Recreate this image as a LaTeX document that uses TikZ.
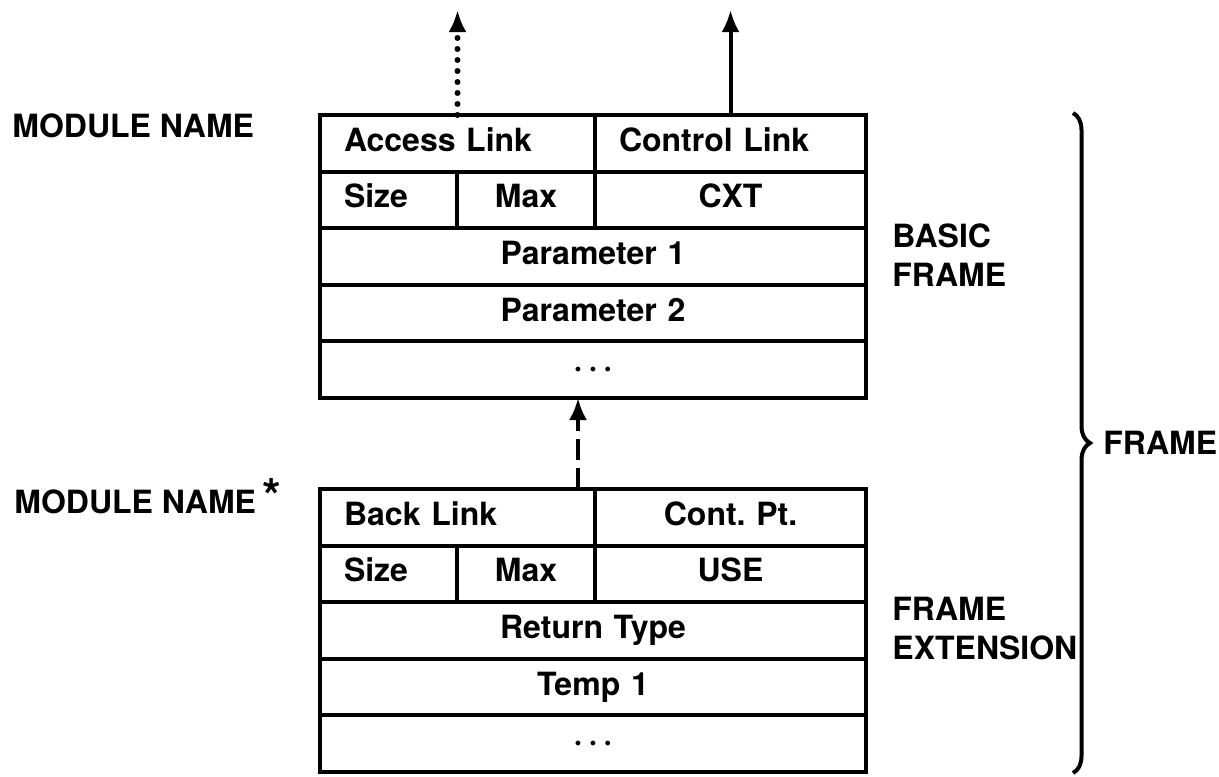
\documentclass[tikz,border=0pt]{standalone}
\usepackage{fontspec}
\setmainfont{TeX Gyre Heros}
\usetikzlibrary{arrows.meta,decorations.pathreplacing}

\newcommand\celldots{\textperiodcentered\hspace{3pt}\textperiodcentered\hspace{3pt}\textperiodcentered}

\begin{document}
\begin{tikzpicture}[
  x=0.5pt, y=-0.5pt,
  every node/.style={font=\bfseries\fontsize{16}{19.5}\selectfont},
  cell/.style={draw, line width=2pt, outer sep=0pt, inner xsep=12pt, inner ysep=0pt,
    minimum height=28.3pt, text height=11.5pt, text depth=3.5pt,
    anchor=north west, text width=#1, align=center},
  lcell/.style={cell=#1, align=left},
  lbl/.style={inner sep=0pt, align=left},
  arr/.style={-{Latex[length=11pt,width=9pt]}, line width=2pt},
  dotarr/.style={arr, line width=3pt, line cap=round, dash pattern=on 0pt off 5.5pt},
  dasharr/.style={arr, dash pattern=on 10.5pt off 4pt}
]
\useasboundingbox (0,0) rectangle (1219,776);

\node[lcell=113.5pt] (acc) at (320,115) {Access Link};
\node[lcell=111.5pt] (ctl) at (acc.north east) {Control Link};
\node[lcell=44.5pt] (sz) at (acc.south west) {Size};
\node[cell=45pt] (mx) at (sz.north east) {Max};
\node[cell=111.5pt] (cxt) at (mx.north east) {CXT};
\node[cell=249pt] (par1) at (sz.south west) {Parameter 1};
\node[cell=249pt] (par2) at (par1.south west) {Parameter 2};
\node[cell=249pt] (more) at (par2.south west) {\celldots};

\node[lcell=113.5pt] (back) at (320,489) {Back Link};
\node[cell=111.5pt] (cpt) at (back.north east) {Cont.\ Pt.};
\node[lcell=44.5pt] (sz2) at (back.south west) {Size};
\node[cell=45pt] (mx2) at (sz2.north east) {Max};
\node[cell=111.5pt] (use) at (mx2.north east) {USE};
\node[cell=249pt] (ret) at (sz2.south west) {Return Type};
\node[cell=249pt] (tmp) at (ret.south west) {Temp 1};
\node[cell=249pt] (more2) at (tmp.south west) {\celldots};

\node[lbl, anchor=base west] (mod) at (12,137) {MODULE NAME};
\node[lbl, anchor=base west] (modx) at (14,513) {MODULE NAME\hspace{3pt}{\fontsize{24}{24}\selectfont *}};
\node[lbl, anchor=west] (basic) at (892,255) {BASIC\\FRAME};
\node[lbl, anchor=west] (ext) at (892,629) {FRAME\\EXTENSION};
\node[lbl, anchor=west] (frame) at (1103,443) {FRAME};

\coordinate (accup) at ([yshift=52.5pt]acc.north);
\coordinate (ctlup) at ([yshift=52.5pt]ctl.north);
\coordinate (bk) at ([xshift=-8.5pt]back.north east);
\draw[dotarr] (acc.north) -- (accup);
\draw[arr] (ctl.north) -- (ctlup);
\draw[dasharr] (bk) -- (bk |- more.south);

\coordinate (btop) at (1073,113);
\coordinate (bbot) at (1073,773);
\draw[decorate, decoration={brace, amplitude=8.5pt}, line width=2pt] (btop) -- (bbot);
\end{tikzpicture}
\end{document}
